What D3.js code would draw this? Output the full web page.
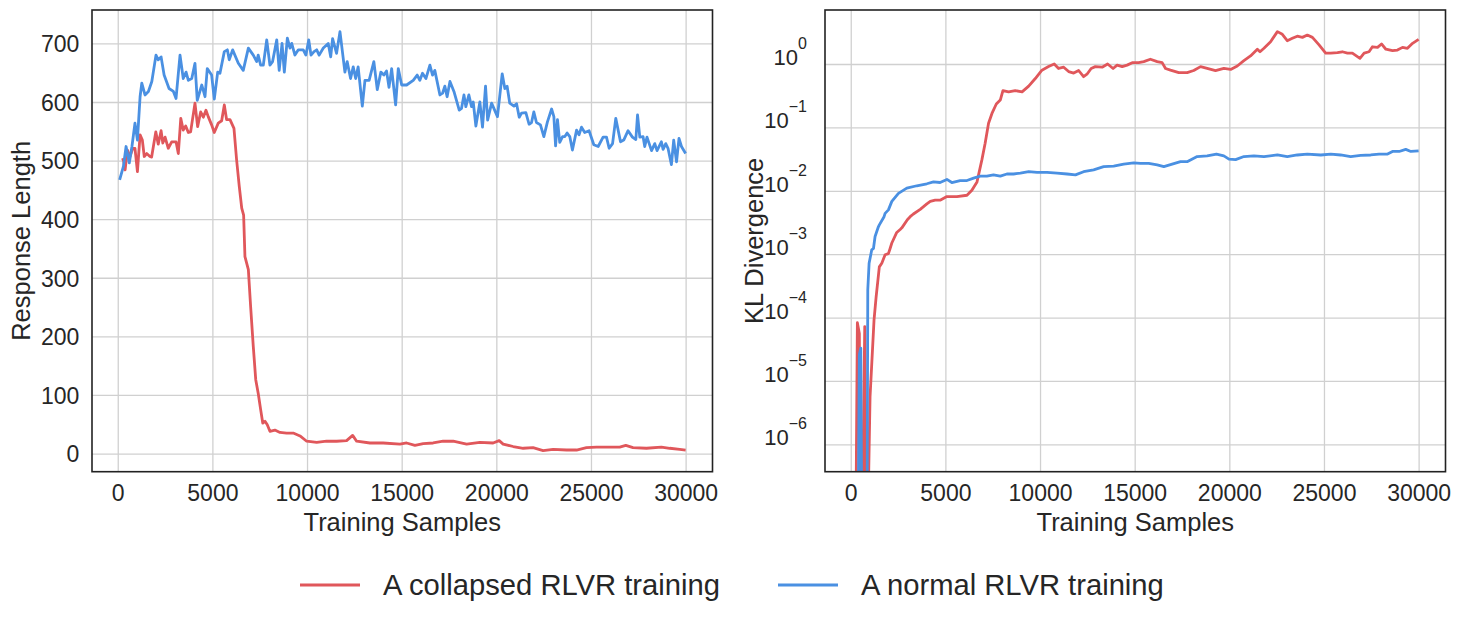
<!DOCTYPE html>
<html>
<head>
<meta charset="utf-8">
<script src="https://cdn.jsdelivr.net/npm/d3@7"></script>
<style>
  body { margin: 0; background: #fff; }
  text { font-family: "Liberation Sans", Arial, Helvetica, sans-serif; fill: #262626; }
</style>
</head>
<body>
<svg id="chart" width="1461" height="623"></svg>
<script>
// tick values
var sampleTicks = [0, 5000, 10000, 15000, 20000, 25000, 30000];
var lengthTicks = [0, 100, 200, 300, 400, 500, 600, 700];
var klTicks = [1e-6, 1e-5, 1e-4, 1e-3, 1e-2, 1e-1, 1];

var seriesNames = ['A collapsed RLVR training', 'A normal RLVR training'];
var seriesColors = ['#e0575b', '#4a90e2'];

// [training samples, response length]
var collapsedLength = [[210,501],[300,502],[390,484],[510,518],[650,507],[790,521],[910,521],[1040,481],[1180,544],[1300,535],[1400,507],[1530,512],[1700,507],[1790,506],[2010,549],[2140,528],[2290,551],[2380,530],[2500,540],[2670,521],[2850,532],[3080,532],[3200,512],[3330,572],[3460,552],[3590,559],[3730,548],[3850,549],[4080,598],[4220,558],[4380,583],[4520,574],[4660,586],[4780,575],[4960,561],[5100,548],[5310,564],[5490,568],[5630,595],[5750,570],[5930,570],[6140,555],[6280,501],[6420,456],[6550,419],[6650,407],[6720,336],[6900,314],[7020,251],[7160,183],[7290,126],[7420,103],[7550,75],[7660,52],[7780,55],[7900,49],[8040,38],[8300,40],[8570,36],[8920,35],[9270,35],[9630,30],[9980,21],[10510,19],[11030,21],[11560,21],[12090,22],[12410,31],[12620,21],[13320,18],[14020,18],[14910,16],[15260,18],[15700,14],[16140,17],[16660,18],[17190,21],[17720,21],[18430,16],[19130,19],[19830,18],[20150,22],[20360,16],[20890,12],[21420,9],[21940,10],[22470,5],[23000,7],[23710,6],[24240,6],[24760,10],[25290,11],[25990,11],[26520,11],[26840,14],[27220,10],[27930,9],[28720,11],[29160,9],[29690,7],[30000,6]];

var normalLength = [[100,467],[300,490],[440,524],[610,496],[750,524],[910,564],[1040,535],[1180,609],[1270,632],[1440,612],[1620,618],[1800,635],[2020,680],[2140,672],[2290,677],[2450,646],[2710,623],[2940,618],[3080,606],[3290,680],[3460,640],[3610,651],[3730,637],[3910,640],[4080,666],[4200,603],[4440,629],[4610,609],[4730,657],[4960,646],[5100,605],[5280,651],[5400,649],[5630,686],[5790,689],[5890,672],[6070,689],[6370,666],[6630,654],[6900,692],[7160,680],[7340,669],[7420,680],[7550,663],[7690,663],[7870,706],[8040,663],[8180,669],[8400,706],[8530,654],[8680,700],[8800,651],[8960,709],[9100,692],[9190,700],[9360,680],[9540,689],[9800,689],[9940,680],[10090,706],[10210,680],[10370,686],[10510,689],[10640,680],[10860,692],[11120,700],[11250,677],[11350,708],[11560,683],[11740,720],[12000,651],[12120,669],[12300,640],[12440,660],[12570,640],[12700,660],[12920,593],[13060,637],[13280,637],[13530,669],[13710,621],[13900,651],[14060,646],[14200,653],[14330,625],[14470,657],[14680,595],[14820,657],[15000,629],[15260,629],[15610,637],[15820,646],[15960,637],[16100,649],[16280,640],[16490,663],[16630,646],[16750,654],[17020,612],[17160,615],[17280,627],[17400,609],[17550,635],[17760,618],[18040,586],[18160,589],[18290,612],[18390,592],[18550,612],[18690,592],[18780,600],[18920,559],[19130,600],[19270,557],[19430,627],[19540,569],[19750,598],[20060,575],[20310,648],[20450,623],[20570,627],[20710,598],[20930,593],[21070,597],[21210,574],[21330,581],[21560,582],[21730,562],[21860,565],[21980,583],[22120,565],[22330,561],[22510,541],[22700,566],[22920,588],[23040,575],[23130,525],[23230,570],[23350,531],[23500,541],[23620,541],[23740,547],[23880,541],[24020,518],[24240,552],[24370,544],[24500,557],[24670,548],[24900,551],[25150,527],[25380,524],[25640,540],[25820,540],[25960,521],[26140,529],[26310,572],[26560,532],[26730,535],[26960,551],[27190,540],[27370,536],[27460,578],[27580,540],[27750,541],[27840,524],[27960,540],[28200,517],[28370,529],[28490,517],[28720,532],[28810,519],[28950,529],[29070,521],[29250,493],[29370,535],[29520,498],[29650,538],[29780,524],[30000,512]];

// [training samples, KL divergence]; 1e-9 = dropped below the axis
var collapsedKL = [[230,1e-9],[350,8.3e-5],[455,5.6e-5],[530,1e-9],[740,7.2e-5],[795,1e-9],[1020,5.6e-6],[1230,9.1e-5],[1340,2.1e-4],[1510,6.3e-4],[1640,7.2e-4],[1815,9.8e-4],[1990,1.02e-3],[2080,1.23e-3],[2170,1.5e-3],[2430,2.2e-3],[2610,2.45e-3],[2700,2.6e-3],[2990,3.5e-3],[3140,3.9e-3],[3310,4.3e-3],[3670,5.1e-3],[4020,6.2e-3],[4200,6.8e-3],[4460,7.1e-3],[4720,7.1e-3],[5080,8.1e-3],[5610,8.1e-3],[6140,8.5e-3],[6400,1.02e-2],[6670,1.38e-2],[6930,3.1e-2],[7100,5.6e-2],[7280,0.116],[7460,0.166],[7690,0.234],[7900,0.27],[8040,0.38],[8340,0.363],[8690,0.38],[9050,0.363],[9400,0.447],[9750,0.59],[10100,0.80],[10450,0.91],[10750,1.0],[10980,0.85],[11250,0.89],[11510,0.76],[11780,0.72],[12040,0.79],[12300,0.63],[12480,0.69],[12700,0.85],[12920,0.91],[13280,0.89],[13570,1.0],[13860,0.85],[14070,0.96],[14340,0.91],[14600,0.96],[14870,1.05],[15210,1.05],[15480,1.09],[15830,1.19],[16190,1.09],[16450,1.05],[16630,0.85],[16890,0.80],[17330,0.73],[17770,0.73],[18120,0.79],[18480,0.91],[18830,0.855],[19270,0.785],[19710,0.855],[20070,0.82],[20420,0.93],[20770,1.13],[21120,1.34],[21480,1.71],[21620,1.56],[21830,1.77],[22180,2.25],[22540,3.24],[22800,2.94],[23060,2.33],[23330,2.54],[23590,2.75],[23860,2.63],[24120,2.86],[24390,2.63],[24740,2.0],[25090,1.48],[25360,1.48],[25710,1.51],[25970,1.56],[26240,1.48],[26500,1.48],[26900,1.23],[27120,1.48],[27380,1.56],[27560,1.87],[27830,1.83],[28040,2.07],[28270,1.71],[28620,1.62],[28880,1.66],[29150,1.83],[29410,1.77],[29680,2.12],[30000,2.45]];

var normalKL = [[350,1e-9],[455,2.6e-5],[530,3.3e-5],[615,1e-9],[845,1e-9],[900,2.75e-4],[970,7.2e-4],[1110,1.17e-3],[1200,1.23e-3],[1285,1.9e-3],[1460,2.7e-3],[1510,2.9e-3],[1760,3.9e-3],[1815,4.4e-3],[1990,5.0e-3],[2170,6.8e-3],[2520,9.1e-3],[2960,1.1e-2],[3490,1.2e-2],[4020,1.29e-2],[4370,1.38e-2],[4720,1.35e-2],[5080,1.51e-2],[5340,1.35e-2],[5780,1.45e-2],[6140,1.45e-2],[6490,1.58e-2],[6840,1.7e-2],[7190,1.7e-2],[7540,1.78e-2],[7900,1.7e-2],[8250,1.84e-2],[8600,1.84e-2],[8960,1.9e-2],[9400,2.0e-2],[9840,1.95e-2],[10370,1.95e-2],[10900,1.9e-2],[11430,1.84e-2],[11870,1.78e-2],[12300,2.0e-2],[12830,2.14e-2],[13360,2.4e-2],[13890,2.45e-2],[14420,2.63e-2],[14950,2.75e-2],[15300,2.7e-2],[15740,2.7e-2],[16190,2.57e-2],[16540,2.4e-2],[16980,2.63e-2],[17420,2.88e-2],[17770,2.88e-2],[18300,3.47e-2],[18830,3.55e-2],[19320,3.8e-2],[19710,3.55e-2],[19980,3.16e-2],[20330,3.1e-2],[20770,3.47e-2],[21300,3.55e-2],[21830,3.47e-2],[22540,3.67e-2],[23060,3.47e-2],[23590,3.67e-2],[24120,3.8e-2],[24830,3.67e-2],[25360,3.8e-2],[25880,3.67e-2],[26410,3.47e-2],[26940,3.63e-2],[27470,3.67e-2],[27910,3.8e-2],[28360,3.8e-2],[28620,4.17e-2],[28970,4.17e-2],[29320,4.5e-2],[29590,4.17e-2],[30000,4.27e-2]];

var svg = d3.select('#chart');
svg.append('rect').attr('width', 1461).attr('height', 623).attr('fill', '#fff');

var panelW = 620.5, panelH = 461.7, panelTop = 10;

function drawPanel(opts) {
    var g = svg.append('g').attr('transform', 'translate(' + opts.left + ',' + panelTop + ')');

    var x = d3.scaleLinear().domain([-1360, 31420]).range([0, panelW]);
    var y = opts.y.range([panelH, 0]);

    // grid + x labels
    var xAxis = g.append('g')
        .attr('transform', 'translate(0,' + panelH + ')')
        .call(d3.axisBottom(x).tickValues(sampleTicks).tickSize(-panelH).tickPadding(13).tickFormat(d3.format('d')));
    xAxis.select('.domain').remove();
    xAxis.selectAll('line').attr('stroke', '#d0d0d0').attr('stroke-width', 1.3);
    xAxis.selectAll('text').style('font-size', '23px').attr('fill', '#262626');

    var yAxis = g.append('g')
        .call(d3.axisLeft(y).tickValues(opts.ticks).tickSize(-panelW).tickPadding(12.7).tickFormat(opts.log ? '' : d3.format('d')));
    yAxis.select('.domain').remove();
    yAxis.selectAll('line').attr('stroke', '#d0d0d0').attr('stroke-width', 1.3);
    yAxis.selectAll('text').style('font-size', '23px').attr('fill', '#262626').attr('dy', '0.36em');

    if (opts.log) {
        var lab = g.append('g').selectAll('text').data(opts.ticks).enter().append('text')
            .attr('x', -18)
            .attr('y', function(d) { return y(d) + 1; })
            .attr('text-anchor', 'end')
            .style('font-size', '22px');
        lab.append('tspan').text('10');
        lab.append('tspan')
            .attr('dy', -16)
            .style('font-size', '16px')
            .text(function(d) {
                var e = Math.round(Math.log10(d));
                return e < 0 ? '\u2212' + (-e) : String(e);
            });
    }

    var clipId = 'clip' + opts.left;
    g.append('clipPath').attr('id', clipId)
        .append('rect').attr('width', panelW).attr('height', panelH);

    var line = d3.line()
        .x(function(d) { return x(d[0]); })
        .y(function(d) { return y(d[1]); });

    g.append('g').attr('clip-path', 'url(#' + clipId + ')')
        .selectAll('path').data(opts.series).enter().append('path')
        .attr('d', line)
        .attr('fill', 'none')
        .attr('stroke', function(d, i) { return seriesColors[i]; })
        .attr('stroke-width', 2.8)
        .attr('stroke-linejoin', 'round');

    g.append('rect')
        .attr('width', panelW).attr('height', panelH)
        .attr('fill', 'none').attr('stroke', '#222').attr('stroke-width', 1.6);

    g.append('text')
        .attr('x', panelW / 2).attr('y', panelH + 59.5)
        .attr('text-anchor', 'middle')
        .style('font-size', '25.5px')
        .text('Training Samples');

    g.append('text')
        .attr('transform', 'translate(' + opts.labelX + ',' + (panelH / 2) + ') rotate(-90)')
        .attr('text-anchor', 'middle')
        .style('font-size', '25.5px')
        .text(opts.label);
}

drawPanel({
    left: 92,
    y: d3.scaleLinear().domain([-31, 757]),
    ticks: lengthTicks,
    log: false,
    series: [collapsedLength, normalLength],
    label: 'Response Length',
    labelX: 29.5 - 92
});

drawPanel({
    left: 825,
    y: d3.scaleLog().domain([Math.pow(10, -6.432), Math.pow(10, 0.852)]),
    ticks: klTicks,
    log: true,
    series: [collapsedKL, normalKL],
    label: 'KL Divergence',
    labelX: 763 - 825
});

// legend
var legendX = [300, 778];
var legend = svg.append('g').selectAll('g').data(seriesNames).enter().append('g')
    .attr('transform', function(d, i) { return 'translate(' + legendX[i] + ',585)'; });
legend.append('line')
    .attr('x1', 0).attr('x2', 60)
    .attr('stroke', function(d, i) { return seriesColors[i]; })
    .attr('stroke-width', 2.8);
legend.append('text')
    .attr('x', 83).attr('y', 10)
    .style('font-size', '29.2px')
    .text(function(d) { return d; });
</script>
</body>
</html>
